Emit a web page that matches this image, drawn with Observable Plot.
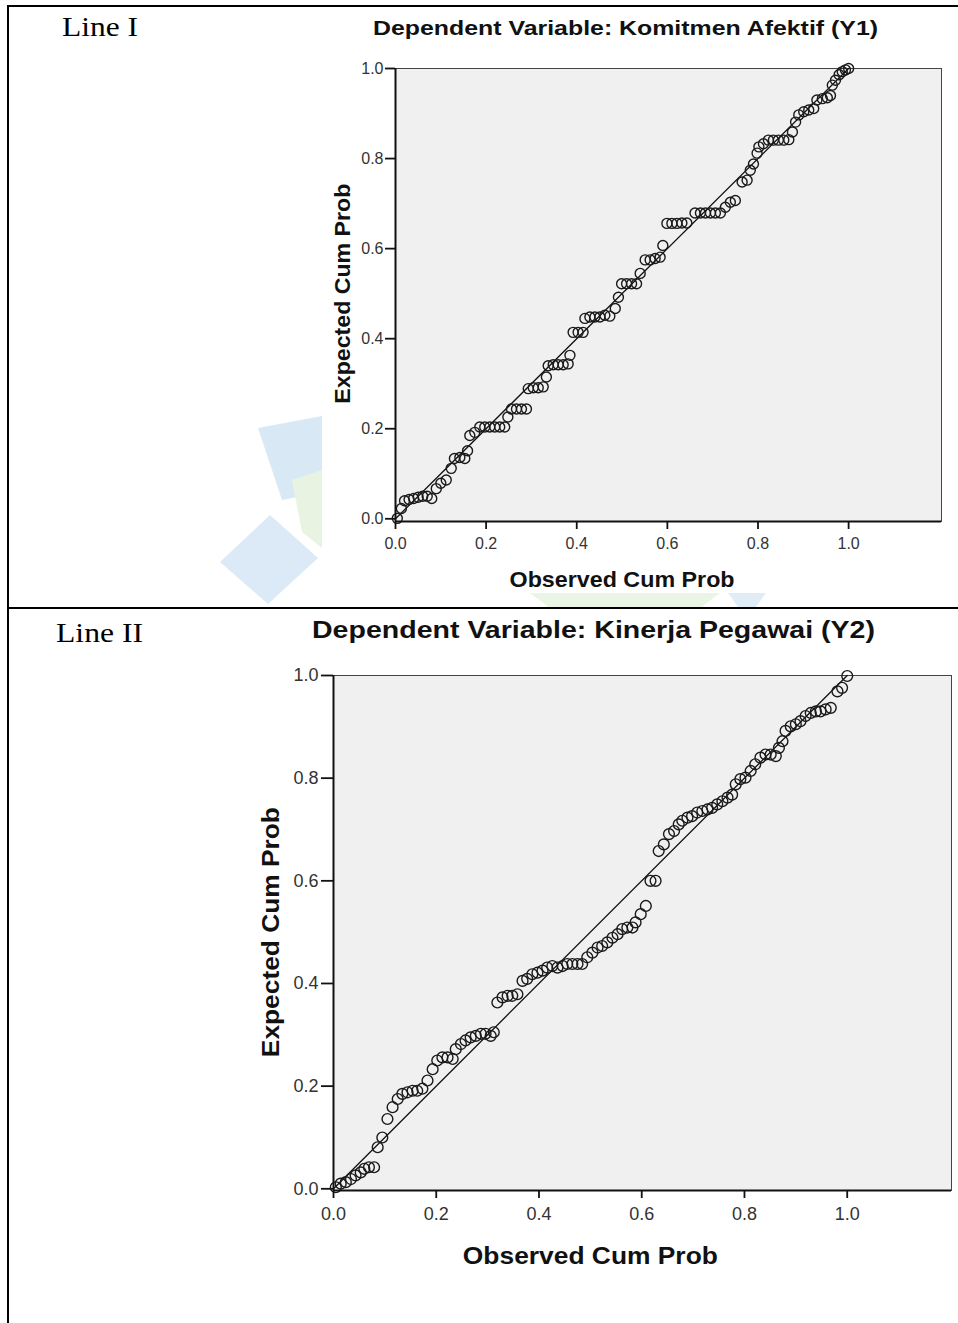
<!DOCTYPE html>
<html><head><meta charset="utf-8">
<script src="https://cdn.jsdelivr.net/npm/d3@7"></script>
<script src="https://cdn.jsdelivr.net/npm/@observablehq/plot@0.6"></script>
<style>
body{margin:0;background:#fff;}
#page{position:relative;width:958px;height:1323px;overflow:hidden;font-family:"Liberation Sans",Arial,sans-serif;background:#fff;}
.abs{position:absolute;}
</style></head><body><div id="page"></div>
<script>
// ---- data ----
const panelLabels = ["Line I", "Line II"];
const titles = ["Dependent Variable: Komitmen Afektif (Y1)", "Dependent Variable: Kinerja Pegawai (Y2)"];
const xLabel = "Observed Cum Prob";
const yLabel = "Expected Cum Prob";
const tickValues = [0, 0.2, 0.4, 0.6, 0.8, 1.0];
const diagonal = [{x: 0, y: 0}, {x: 1, y: 1}];

const observedY1 = [0.004,0.013,0.02,0.03,0.04,0.05,0.06,0.07,0.08,0.09,0.10,0.112,0.123,0.13,0.142,0.153,0.159,0.164,0.175,0.186,0.197,0.208,0.219,0.23,0.241,0.248,0.256,0.267,0.278,0.289,0.293,0.304,0.315,0.326,0.333,0.337,0.348,0.359,0.370,0.381,0.385,0.392,0.403,0.414,0.418,0.429,0.44,0.451,0.462,0.473,0.485,0.492,0.499,0.51,0.521,0.532,0.54,0.551,0.562,0.573,0.584,0.59,0.599,0.61,0.621,0.632,0.643,0.661,0.673,0.684,0.695,0.706,0.717,0.728,0.739,0.75,0.765,0.776,0.783,0.79,0.798,0.802,0.812,0.823,0.834,0.845,0.857,0.868,0.876,0.883,0.89,0.901,0.912,0.923,0.93,0.942,0.953,0.96,0.964,0.971,0.979,0.986,0.993,1.0];
const expectedY1 = [0.001,0.023,0.040,0.043,0.045,0.048,0.050,0.050,0.045,0.067,0.079,0.086,0.112,0.134,0.136,0.134,0.151,0.185,0.192,0.204,0.204,0.204,0.204,0.204,0.204,0.226,0.244,0.244,0.244,0.244,0.289,0.291,0.291,0.293,0.315,0.340,0.342,0.342,0.342,0.344,0.363,0.414,0.414,0.414,0.445,0.448,0.448,0.448,0.452,0.450,0.467,0.492,0.522,0.522,0.522,0.522,0.545,0.575,0.575,0.578,0.581,0.607,0.656,0.656,0.656,0.657,0.657,0.679,0.679,0.679,0.679,0.679,0.679,0.692,0.703,0.707,0.748,0.752,0.774,0.788,0.812,0.826,0.833,0.841,0.841,0.841,0.841,0.842,0.859,0.881,0.897,0.904,0.908,0.911,0.930,0.933,0.935,0.940,0.963,0.974,0.986,0.993,0.997,1.0];

const observedY2 = [0.0045,0.014,0.024,0.034,0.043,0.053,0.06,0.069,0.079,0.086,0.095,0.105,0.115,0.125,0.134,0.144,0.154,0.163,0.173,0.183,0.193,0.202,0.212,0.222,0.232,0.238,0.248,0.257,0.267,0.277,0.287,0.296,0.306,0.312,0.319,0.329,0.339,0.348,0.358,0.368,0.377,0.387,0.397,0.407,0.416,0.426,0.436,0.446,0.455,0.465,0.475,0.484,0.494,0.504,0.514,0.523,0.533,0.543,0.553,0.562,0.572,0.582,0.588,0.598,0.608,0.617,0.627,0.633,0.643,0.653,0.663,0.672,0.679,0.689,0.698,0.708,0.718,0.728,0.737,0.747,0.757,0.767,0.776,0.783,0.792,0.802,0.812,0.821,0.831,0.841,0.851,0.861,0.867,0.874,0.88,0.89,0.9,0.909,0.919,0.929,0.939,0.948,0.958,0.968,0.981,0.99,1.0];
const expectedY2 = [0.003,0.01,0.013,0.019,0.026,0.032,0.039,0.042,0.042,0.081,0.1,0.136,0.159,0.175,0.185,0.188,0.191,0.191,0.195,0.211,0.233,0.25,0.256,0.256,0.253,0.272,0.282,0.289,0.295,0.298,0.302,0.302,0.298,0.305,0.363,0.373,0.376,0.376,0.379,0.405,0.409,0.418,0.421,0.425,0.431,0.434,0.431,0.434,0.438,0.438,0.438,0.438,0.451,0.46,0.47,0.473,0.48,0.489,0.496,0.506,0.509,0.509,0.519,0.535,0.551,0.6,0.6,0.658,0.671,0.691,0.697,0.71,0.717,0.723,0.726,0.733,0.736,0.739,0.742,0.749,0.755,0.762,0.768,0.788,0.798,0.801,0.814,0.827,0.84,0.846,0.846,0.843,0.859,0.872,0.892,0.901,0.905,0.911,0.921,0.927,0.93,0.93,0.934,0.937,0.969,0.976,0.999];

// ---- page ----
const page = document.getElementById("page");
const FONT = "Liberation Sans, Arial, sans-serif";

// background watermark (faint)
const bg = d3.select(page).append("svg").attr("class", "abs")
  .attr("width", 958).attr("height", 1323).style("left", "0px").style("top", "0px");
const wm = [
  {pts: [[258,428],[322,416],[322,492],[282,500]], fill: "#d8e9f5"},
  {pts: [[220,562],[270,515],[318,558],[268,604]], fill: "#dbeaf6"},
  {pts: [[292,480],[322,470],[322,548],[302,532]], fill: "#e8f3e1"},
  {pts: [[530,593],[720,593],[700,608],[550,608]], fill: "#ebf5e6"},
  {pts: [[728,593],[766,593],[756,607],[738,607]], fill: "#e0ecf6"}
];
bg.selectAll("polygon").data(wm).join("polygon")
  .attr("points", d => d.pts.map(p => p.join(",")).join(" "))
  .attr("fill", d => d.fill);

function ppPlot(o) {
  const data = o.obs.map((v, i) => ({x: v, y: o.exp[i]}));
  const svg = Plot.plot({
    width: o.width, height: o.height,
    marginLeft: o.ml, marginRight: o.mr, marginTop: o.mt, marginBottom: o.mb,
    style: {background: "white", fontFamily: FONT, color: "#222", overflow: "visible"},
    x: {domain: [0, o.xMax], label: null},
    y: {domain: [o.yMin, 1], label: null},
    marks: [
      Plot.frame({fill: "#f0f0f0", stroke: "#444", strokeWidth: 1}),
      Plot.line(diagonal, {x: "x", y: "y", stroke: "#111", strokeWidth: 1.3}),
      Plot.dot(data, {x: "x", y: "y", r: o.r, stroke: "#1a1a1a", strokeWidth: 1.4, fill: "none"}),
      Plot.ruleX([0], {stroke: "#111", strokeWidth: 2}),
      Plot.ruleY([o.yMin], {stroke: "#111", strokeWidth: 2}),
      Plot.axisX({ticks: tickValues, tickFormat: d3.format(".1f"), tickSize: o.txSize, tickPadding: o.txPad,
        fontSize: o.tickFont, label: null, stroke: "#111", strokeWidth: 1.8, fill: "#333"}),
      Plot.axisY({ticks: tickValues, tickFormat: d3.format(".1f"), tickSize: o.tySize, tickPadding: o.tyPad,
        fontSize: o.tickFont, label: null, stroke: "#111", strokeWidth: 1.8, fill: "#333"}),
      Plot.text([{x: 0.5, t: xLabel}], {x: "x", text: "t", frameAnchor: "bottom", dy: o.xLabDy,
        textAnchor: "middle", fontSize: o.labFont, fontWeight: "bold", fill: "#111"}),
      Plot.text([{y: 0.5, t: yLabel}], {y: "y", text: "t", frameAnchor: "left", dx: o.yLabDx, rotate: -90,
        textAnchor: "middle", fontSize: o.labFont, fontWeight: "bold", fill: "#111"})
    ]
  });
  d3.select(svg).selectAll("text").filter(function() { return this.textContent === xLabel; })
    .attr("textLength", o.xLabLen).attr("lengthAdjust", "spacingAndGlyphs");
  d3.select(svg).selectAll("text").filter(function() { return this.textContent === yLabel; })
    .attr("textLength", o.yLabLen).attr("lengthAdjust", "spacingAndGlyphs");
  const wrap = document.createElement("div");
  wrap.className = "abs";
  wrap.style.left = o.left + "px";
  wrap.style.top = o.top + "px";
  svg.style.display = "block";
  wrap.appendChild(svg);
  page.appendChild(wrap);
}

// top chart: frame x 395..941, y 68..521
ppPlot({obs: observedY1, exp: expectedY1, left: 322, top: 10, width: 636, height: 583,
  ml: 73, mr: 17, mt: 58, mb: 72, xMax: 1.205, yMin: -0.006, r: 5,
  txSize: 8, txPad: 8, tySize: 10, tyPad: 2, tickFont: 16, labFont: 22,
  xLabDy: 65, yLabDx: -53, xLabLen: 225, yLabLen: 220});

// bottom chart: frame x 333..951, y 675..1190
ppPlot({obs: observedY2, exp: expectedY2, left: 230, top: 650, width: 728, height: 650,
  ml: 103, mr: 7, mt: 25, mb: 110, xMax: 1.203, yMin: -0.0033, r: 5.4,
  txSize: 8, txPad: 9, tySize: 12, tyPad: 3, tickFont: 18, labFont: 24,
  xLabDy: 73, yLabDx: -62, xLabLen: 255, yLabLen: 250});

// overlay: borders, panel labels, titles
const ov = d3.select(page).append("svg").attr("class", "abs")
  .attr("width", 958).attr("height", 1323).style("left", "0px").style("top", "0px")
  .style("pointer-events", "none");
ov.append("rect").attr("x", 7).attr("y", 5).attr("width", 2).attr("height", 1318).attr("fill", "#000");
ov.append("rect").attr("x", 7).attr("y", 5).attr("width", 951).attr("height", 2).attr("fill", "#000");
ov.append("rect").attr("x", 7).attr("y", 607).attr("width", 951).attr("height", 2).attr("fill", "#000");

const labelSpecs = [
  {t: panelLabels[0], x: 62, y: 36, len: 76},
  {t: panelLabels[1], x: 56, y: 642, len: 87}
];
ov.selectAll("text.pl").data(labelSpecs).join("text").attr("class", "pl")
  .attr("x", d => d.x).attr("y", d => d.y).attr("textLength", d => d.len)
  .attr("lengthAdjust", "spacingAndGlyphs")
  .attr("font-family", "Liberation Serif, Times New Roman, serif").attr("font-size", 28)
  .attr("fill", "#000").text(d => d.t);

const titleSpecs = [
  {t: titles[0], x: 373, y: 35, len: 505, size: 21},
  {t: titles[1], x: 312, y: 638, len: 563, size: 23.5}
];
ov.selectAll("text.tt").data(titleSpecs).join("text").attr("class", "tt")
  .attr("x", d => d.x).attr("y", d => d.y).attr("textLength", d => d.len)
  .attr("lengthAdjust", "spacingAndGlyphs")
  .attr("font-family", FONT).attr("font-weight", "bold").attr("font-size", d => d.size)
  .attr("fill", "#111").text(d => d.t);
</script>
</body></html>
